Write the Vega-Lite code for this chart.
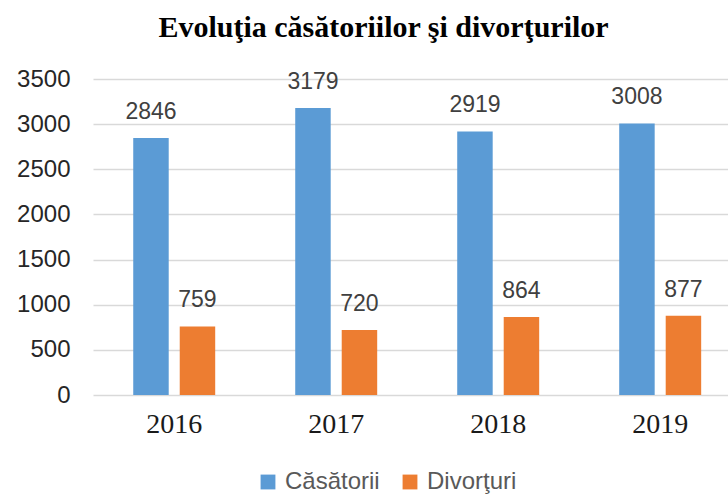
{
  "$schema": "https://vega.github.io/schema/vega-lite/v6.json",
  "autosize": {"type": "none"},
  "width": 635,
  "height": 316,
  "padding": {"left": 93, "top": 79, "right": 0, "bottom": 104},
  "background": "white",
  "title": {
    "text": "Evoluţia căsătoriilor şi divorţurilor",
    "font": "Liberation Serif",
    "fontSize": 30,
    "fontWeight": "bold",
    "color": "#000000",
    "anchor": "middle",
    "dx": -27,
    "offset": 24
  },
  "data": {
    "values": [
      {"an": "2016", "serie": "Căsătorii", "valoare": 2846},
      {"an": "2016", "serie": "Divorţuri", "valoare": 759},
      {"an": "2017", "serie": "Căsătorii", "valoare": 3179},
      {"an": "2017", "serie": "Divorţuri", "valoare": 720},
      {"an": "2018", "serie": "Căsătorii", "valoare": 2919},
      {"an": "2018", "serie": "Divorţuri", "valoare": 864},
      {"an": "2019", "serie": "Căsătorii", "valoare": 3008},
      {"an": "2019", "serie": "Divorţuri", "valoare": 877}
    ]
  },
  "encoding": {
    "x": {
      "field": "an",
      "type": "nominal",
      "title": null,
      "scale": {"paddingInner": 0.494, "paddingOuter": 0.207, "align": 0.6},
      "axis": {
        "labelAngle": 0,
        "labelFont": "Liberation Serif",
        "labelFontSize": 28,
        "labelColor": "#1a1a1a",
        "labelPadding": 15,
        "ticks": false,
        "domain": false,
        "grid": false
      }
    },
    "xOffset": {
      "field": "serie",
      "type": "nominal",
      "scale": {"paddingInner": 0.237, "paddingOuter": 0}
    },
    "y": {
      "field": "valoare",
      "type": "quantitative",
      "title": null,
      "scale": {"domain": [0, 3500]},
      "axis": {
        "values": [0, 500, 1000, 1500, 2000, 2500, 3000, 3500],
        "format": "d",
        "labelFont": "Liberation Sans",
        "labelFontSize": 24,
        "labelColor": "#262626",
        "labelPadding": 23,
        "ticks": false,
        "domain": false,
        "grid": true,
        "gridColor": "#d9d9d9",
        "gridWidth": 1.5
      }
    },
    "color": {
      "field": "serie",
      "type": "nominal",
      "scale": {"domain": ["Căsătorii", "Divorţuri"], "range": ["#5B9BD5", "#ED7D31"]},
      "legend": {
        "title": null,
        "orient": "none",
        "direction": "horizontal",
        "legendX": 163,
        "legendY": 391,
        "symbolType": "square",
        "symbolSize": 220,
        "symbolStrokeWidth": 0,
        "labelFont": "Liberation Sans",
        "labelFontSize": 24,
        "labelColor": "#595959",
        "labelBaseline": "middle",
        "columnPadding": 18,
        "labelOffset": 5
      }
    }
  },
  "layer": [
    {"mark": {"type": "bar"}},
    {
      "mark": {
        "type": "text",
        "baseline": "alphabetic",
        "dy": -19,
        "font": "Liberation Sans",
        "fontSize": 23,
        "color": "#404040"
      },
      "encoding": {
        "text": {"field": "valoare", "type": "quantitative", "format": "d"},
        "color": {"value": "#404040"}
      }
    }
  ],
  "config": {
    "view": {"stroke": null}
  }
}
